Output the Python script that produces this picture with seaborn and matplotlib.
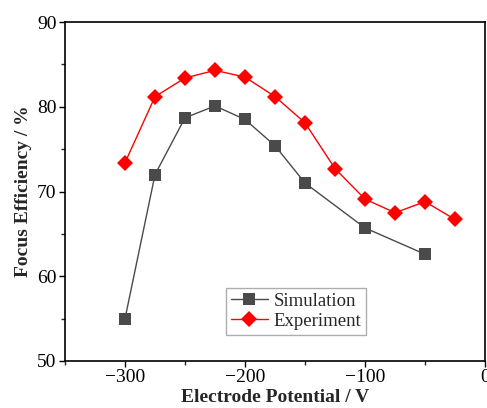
import matplotlib
matplotlib.use("Agg")
import matplotlib.pyplot as plt
import seaborn as sns
import pandas as pd
from matplotlib.ticker import MultipleLocator

sim_x = [-300, -275, -250, -225, -200, -175, -150, -100, -50]
sim_y = [55.0, 72.0, 78.7, 80.1, 78.5, 75.4, 71.0, 65.7, 62.6]
exp_x = [-300, -275, -250, -225, -200, -175, -150, -125, -100, -75, -50, -25]
exp_y = [73.4, 81.2, 83.4, 84.3, 83.5, 81.2, 78.1, 72.7, 69.1, 67.5, 68.8, 66.7]

sns.set_theme(style="ticks")
plt.rcParams['font.family'] = ['Liberation Serif', 'DejaVu Serif']

fig = plt.figure(figsize=(4.87, 4.08), dpi=100)
ax = fig.add_axes([0.1335, 0.1152, 0.8625, 0.8308])

sim = pd.DataFrame({"x": sim_x, "y": sim_y})
exp = pd.DataFrame({"x": exp_x, "y": exp_y})

sns.lineplot(data=sim, x="x", y="y", ax=ax, color="#4a4a4a", marker="s",
             markersize=8.5, markeredgewidth=0, linewidth=1.0, label="Simulation")
sns.lineplot(data=exp, x="x", y="y", ax=ax, color="#ff0000", marker="D",
             markersize=8.5, markeredgewidth=0, linewidth=1.0, label="Experiment")

ax.set_xlim(-350, 0)
ax.set_ylim(50, 90)
ax.xaxis.set_minor_locator(MultipleLocator(50))
ax.yaxis.set_major_locator(MultipleLocator(10))
ax.yaxis.set_minor_locator(MultipleLocator(5))
ax.set_xticks([-300, -200, -100, 0])
ax.set_xticklabels(["\u2212300", "\u2212200", "\u2212100", "0"])
ax.tick_params(which="major", direction="out", length=4, width=1, labelsize=14,
               colors="black", pad=2)
ax.tick_params(which="minor", direction="out", length=3, width=1)
for s in ax.spines.values():
    s.set_linewidth(1.2)
    s.set_color("black")

ax.set_xlabel("Electrode Potential / V", fontsize=14, fontweight="bold", labelpad=2)
ax.set_ylabel("Focus Efficiency / %", fontsize=14, fontweight="bold", labelpad=4)

leg = ax.legend(loc="upper left", bbox_to_anchor=(0.383, 0.215), borderaxespad=0,
                fontsize=13.5, frameon=True, fancybox=False, handlelength=2.0,
                handletextpad=0.3, borderpad=0.25, labelspacing=0.15)
leg.get_frame().set_edgecolor("#999999")
leg.get_frame().set_linewidth(1.0)

fig.savefig("out.png", dpi=100)
